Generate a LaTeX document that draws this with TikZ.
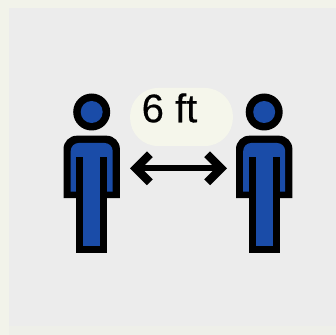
\documentclass[tikz,border=0pt]{standalone}
\usepackage{fontspec}
\setmainfont{Liberation Sans}
\usetikzlibrary{arrows.meta}

\definecolor{paleEdge}{HTML}{F2F3EA}
\definecolor{lowEdge}{HTML}{EEEFE9}
\definecolor{wallGrey}{HTML}{ECECEC}
\definecolor{bubbleCream}{HTML}{F5F6EB}
\definecolor{personBlue}{HTML}{1A4CA8}

\tikzset{
    bubble/.style={fill=bubbleCream, rounded corners=21pt, inner sep=0pt,
        minimum width=77pt, minimum height=43.5pt},
    gaplabel/.style={inner sep=0pt, font=\fontsize{30pt}{32pt}\selectfont\addfontfeature{FakeBold=0.4}},
    gaparrow/.style={line width=4.4pt,
        {Straight Barb[length=10.5pt, width=21pt, line width=6.2pt]}-{Straight Barb[length=10.5pt, width=21pt, line width=6.2pt]}}
}

\begin{document}
\begin{tikzpicture}[x=0.75pt, y=-0.75pt]

\useasboundingbox (0,0) rectangle (336,335);

% Define head sizes
\def\headOuter{18.5}
\def\headInner{11}

% --- Background with its pale edges ---
\fill[wallGrey] (0,0) rectangle (336,335);
\fill[lowEdge] (0,326) rectangle (336,335);
\fill[paleEdge] (0,0) rectangle (9,335);
\fill[paleEdge] (0,0) rectangle (336,8);

% --- Speech bubble and label ---
\node[bubble] (gapBubble) at (181.5,117) {};
\node[gaplabel] (gapLabel) at (169.5,108) {6 ft};

% --- Draw both persons ---
\foreach \personX in {91.7,264.2} {
    \begin{scope}[shift={(\personX,0)}]
    % head
    \fill[black] (0,112) circle (\headOuter);
    \fill[personBlue] (0,112) circle (\headInner);
    % body outline
    \fill[black] (-28.2,198) [rounded corners=10pt] -- (-28.2,135.7) -- (28.2,135.7) [sharp corners] -- (28.2,198) -- cycle;
    \fill[black] (-15.7,190) rectangle (15.7,253);
    % body colour
    \fill[personBlue] (-21,191.7) [rounded corners=6pt] -- (-21,143) -- (21,143) [sharp corners] -- (21,191.7) -- cycle;
    \fill[black] (-15.7,157) rectangle (15.7,200);
    \fill[personBlue] (-8.4,150) rectangle (8.4,245.7);
    \end{scope}
}

% --- Arrow between the persons ---
\coordinate (gapLeft) at (130,168.3);
\coordinate (gapRight) at (227,168.3);
\draw[gaparrow] (gapLeft) -- (gapRight);

\end{tikzpicture}
\end{document}
